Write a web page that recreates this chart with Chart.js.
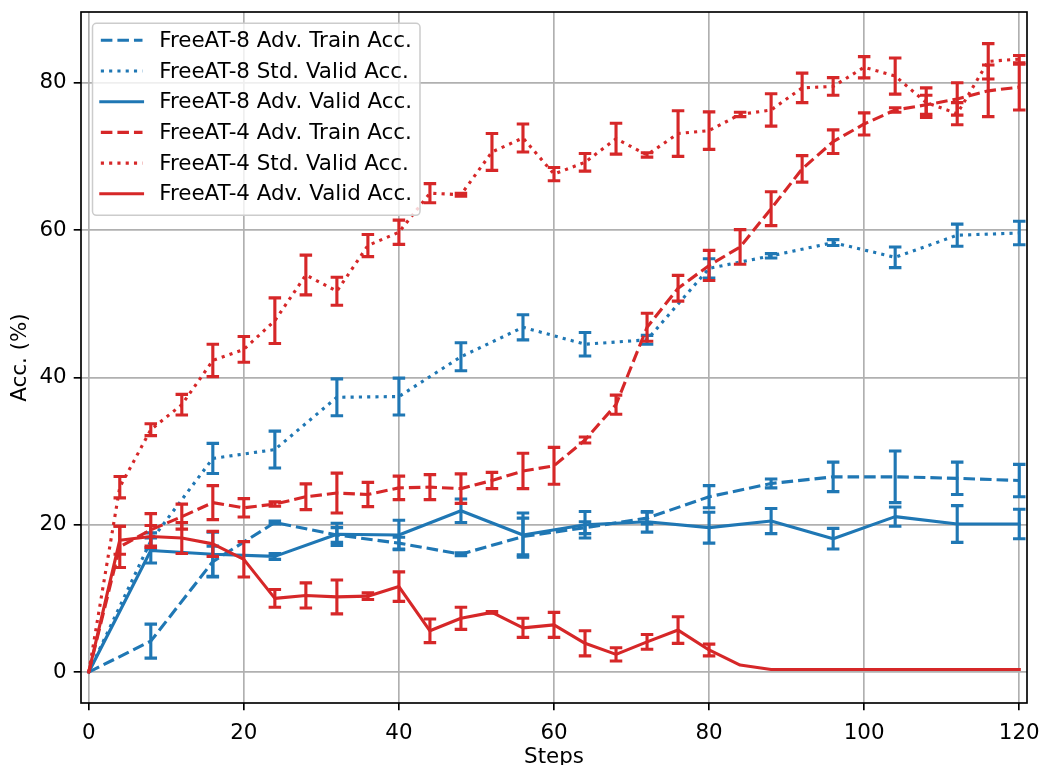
<!DOCTYPE html>
<html>
<head>
<meta charset="utf-8">
<script src="https://cdn.jsdelivr.net/npm/chart.js@4.4.1/dist/chart.umd.min.js"></script>
<style>
html,body{margin:0;padding:0;background:#fff;}
canvas{display:block;}
</style>
</head>
<body>
<canvas id="c" width="1040" height="765" style="width:1040px;height:765px"></canvas>
<script>
// ---------------- data ----------------
const stepsAT8 = [0,8,16,24,32,40,48,56,64,72,80,88,96,104,112,120];
const stepsAT4 = [0,4,8,12,16,20,24,28,32,36,40,44,48,52,56,60,64,68,72,76,80,84,88,92,96,100,104,108,112,116,120];

const at8AdvTrain    = [0,4.2,15.0,20.3,18.6,17.5,16.0,18.4,19.6,20.9,23.8,25.6,26.5,26.5,26.3,26.0];
const at8AdvTrainErr = [0,2.3,2.1,0.2,1.0,0.8,0.2,2.5,0.8,0.8,1.5,0.6,2.0,3.5,2.2,2.2];
const at8StdValid    = [0,17.8,29.0,30.2,37.3,37.4,42.8,46.8,44.5,45.1,54.8,56.5,58.3,56.3,59.3,59.6];
const at8StdValidErr = [0,1.1,2.05,2.5,2.5,2.5,1.9,1.7,1.6,0.6,1.3,0.3,0.4,1.4,1.5,1.6];
const at8AdvValid    = [0,16.5,16.0,15.7,18.7,18.6,21.9,18.6,20.0,20.4,19.6,20.5,18.1,21.1,20.1,20.1];
const at8AdvValidErr = [0,1.7,3.0,0.4,1.5,2.0,1.6,3.0,1.8,1.4,2.1,1.7,1.4,1.3,2.5,2.0];

const at4AdvTrain    = [0,17.0,19.3,21.1,23.0,22.3,22.8,23.8,24.3,24.1,25.0,25.1,24.9,26.0,27.3,28.0,31.5,36.3,46.8,52.1,55.2,57.7,62.9,68.3,72.0,74.4,76.3,77.0,77.8,78.9,79.4];
const at4AdvTrainErr = [0,2.8,2.2,1.7,2.3,1.25,0.3,1.75,2.7,1.65,1.6,1.7,2.0,1.1,2.4,2.5,0.4,1.3,1.9,1.75,2.05,2.35,2.3,1.8,1.6,1.5,0.3,1.3,2.2,3.5,3.1];
const at4StdValid    = [0,25.1,32.9,36.3,42.3,43.8,47.7,53.9,51.7,57.9,59.7,65.0,64.8,70.6,72.5,67.6,69.2,72.4,70.2,73.1,73.5,75.7,76.3,79.3,79.5,82.1,80.9,77.3,75.8,82.9,83.2];
const at4StdValidErr = [0,1.45,0.8,1.4,2.2,1.75,3.1,2.7,1.9,1.5,1.65,1.3,0.2,2.5,1.9,0.9,1.2,2.1,0.3,3.1,2.55,0.3,2.2,2.0,1.2,1.45,2.45,2.0,1.5,2.4,0.5];
const at4AdvValid    = [0,17.9,18.4,18.2,17.4,15.3,10.0,10.4,10.2,10.3,11.6,5.6,7.3,8.1,6.0,6.4,3.9,2.4,4.1,5.7,3.0,0.95,0.35,0.35,0.35,0.35,0.35,0.35,0.35,0.35,0.35];
const at4AdvValidErr = [0,1.9,1.5,2.1,1.7,2.4,1.2,1.7,2.3,0.45,2.0,1.6,1.5,0.1,1.3,1.7,1.7,0.9,1.0,1.8,0.8,0,0,0,0,0,0,0,0,0,0];

const seriesLabels = [
  'FreeAT-8 Adv. Train Acc.',
  'FreeAT-8 Std. Valid Acc.',
  'FreeAT-8 Adv. Valid Acc.',
  'FreeAT-4 Adv. Train Acc.',
  'FreeAT-4 Std. Valid Acc.',
  'FreeAT-4 Adv. Valid Acc.'
];
const xTickValues = [0,20,40,60,80,100,120];
const yTickValues = [0,20,40,60,80];
const xTitle = 'Steps';
const yTitle = 'Acc. (%)';

// ---------------- styles ----------------
const PT = 150/72;
const BLUE = '#1f77b4', RED = '#d62728';
const LW = 1.5*PT;
const DASHED = [3.7*LW, 1.6*LW];
const DOTTED = [1*LW, 1.65*LW];
const FS = 21.4;
const FAMILY = "'DejaVu Sans', sans-serif";
const FONT = {family: FAMILY, size: FS};

function pts(xs, ys){ return xs.map((x,i)=>({x:x, y:ys[i]})); }

const seriesDefs = [
  [stepsAT8, at8AdvTrain, at8AdvTrainErr, BLUE, DASHED],
  [stepsAT8, at8StdValid, at8StdValidErr, BLUE, DOTTED],
  [stepsAT8, at8AdvValid, at8AdvValidErr, BLUE, []],
  [stepsAT4, at4AdvTrain, at4AdvTrainErr, RED, DASHED],
  [stepsAT4, at4StdValid, at4StdValidErr, RED, DOTTED],
  [stepsAT4, at4AdvValid, at4AdvValidErr, RED, []]
];

const datasets = seriesDefs.map((d,i)=>({
  label: seriesLabels[i],
  data: pts(d[0], d[1]),
  errors: d[2],
  borderColor: d[3],
  backgroundColor: d[3],
  borderWidth: LW,
  borderDash: d[4],
  borderCapStyle: d[4].length ? 'butt' : 'square',
  borderJoinStyle: 'round',
  pointRadius: 0,
  pointHoverRadius: 0,
  tension: 0,
  fill: false,
  order: 10 - i
}));

// ---------------- plugins ----------------
const errorBars = {
  id: 'errorBars',
  afterDatasetDraw(chart, args) {
    const ds = chart.data.datasets[args.index];
    if (!ds.errors) return;
    const {ctx, chartArea: a, scales} = chart;
    const xs = scales.x, ys = scales.y;
    const cap = 3*PT;
    ctx.save();
    ctx.beginPath();
    ctx.rect(a.left, a.top, a.right - a.left, a.bottom - a.top);
    ctx.clip();
    ctx.strokeStyle = ds.borderColor;
    ctx.lineWidth = LW;
    ctx.lineCap = 'butt';
    ctx.setLineDash([]);
    ds.data.forEach((p, i) => {
      const e = ds.errors[i];
      if (!e) return;
      const px = xs.getPixelForValue(p.x);
      const y1 = ys.getPixelForValue(p.y - e);
      const y2 = ys.getPixelForValue(p.y + e);
      ctx.beginPath();
      ctx.moveTo(px, y1); ctx.lineTo(px, y2);
      ctx.moveTo(px - cap, y1); ctx.lineTo(px + cap, y1);
      ctx.moveTo(px - cap, y2); ctx.lineTo(px + cap, y2);
      ctx.stroke();
    });
    ctx.restore();
  }
};

const spines = {
  id: 'spines',
  afterDatasetsDraw(chart) {
    const {ctx, chartArea: a} = chart;
    ctx.save();
    ctx.strokeStyle = '#000';
    ctx.lineWidth = 0.8*PT;
    ctx.setLineDash([]);
    ctx.strokeRect(a.left, a.top, a.right - a.left, a.bottom - a.top);
    ctx.restore();
  }
};

const insideLegend = {
  id: 'insideLegend',
  afterDraw(chart) {
    const {ctx, chartArea: a} = chart;
    const em = 10*PT;
    const x0 = a.left + 11.5, y0 = a.top + 11.3;
    const w = 327.5, h = 192;
    const r = 4;
    ctx.save();
    ctx.beginPath();
    ctx.moveTo(x0 + r, y0);
    ctx.lineTo(x0 + w - r, y0);
    ctx.arcTo(x0 + w, y0, x0 + w, y0 + r, r);
    ctx.lineTo(x0 + w, y0 + h - r);
    ctx.arcTo(x0 + w, y0 + h, x0 + w - r, y0 + h, r);
    ctx.lineTo(x0 + r, y0 + h);
    ctx.arcTo(x0, y0 + h, x0, y0 + h - r, r);
    ctx.lineTo(x0, y0 + r);
    ctx.arcTo(x0, y0, x0 + r, y0, r);
    ctx.closePath();
    ctx.fillStyle = 'rgba(255,255,255,0.8)';
    ctx.fill();
    ctx.strokeStyle = '#cccccc';
    ctx.lineWidth = 1.5;
    ctx.stroke();

    const hx = x0 + 0.4*em;
    const hl = 2*em;
    const tx = hx + hl + 0.8*em;
    ctx.font = FS + "px " + FAMILY;
    ctx.textBaseline = 'middle';
    ctx.textAlign = 'left';
    chart.data.datasets.forEach((ds, i) => {
      const cy = y0 + 17 + i*30.7;
      ctx.beginPath();
      ctx.strokeStyle = ds.borderColor;
      ctx.lineWidth = LW;
      ctx.lineCap = ds.borderDash.length ? 'butt' : 'square';
      ctx.setLineDash(ds.borderDash);
      ctx.moveTo(hx, cy);
      ctx.lineTo(hx + hl, cy);
      ctx.stroke();
      ctx.setLineDash([]);
      ctx.fillStyle = '#000';
      ctx.fillText(ds.label, tx, cy + 1);
    });
    ctx.restore();
  }
};

// ---------------- chart ----------------
const tickSetter = vals => scale => { scale.ticks = vals.map(v => ({value: v})); };

new Chart(document.getElementById('c').getContext('2d'), {
  type: 'line',
  data: { datasets: datasets },
  plugins: [errorBars, spines, insideLegend],
  options: {
    responsive: false,
    animation: false,
    devicePixelRatio: 1,
    events: [],
    layout: { padding: { left: 0, right: 13, top: 12, bottom: 0 } },
    plugins: { legend: { display: false }, tooltip: { enabled: false } },
    scales: {
      x: {
        type: 'linear',
        min: -1, max: 121,
        afterBuildTicks: tickSetter(xTickValues),
        afterFit: s => { s.height = 62; s.paddingLeft = 0; s.paddingRight = 0; s.paddingTop = 0; s.paddingBottom = 0; },
        ticks: { font: FONT, color: '#000', padding: 10, maxRotation: 0, autoSkip: false,
                 callback: v => String(v) },
        grid: { color: '#b0b0b0', lineWidth: 0.8*PT, tickColor: '#000', tickLength: 3.5*PT, drawTicks: true },
        border: { display: false },
        title: { display: true, text: xTitle, color: '#000',
                 font: {family: FAMILY, size: FS, lineHeight: 0.7}, padding: {top: 0, bottom: 0} }
      },
      y: {
        type: 'linear',
        min: -4.2, max: 89.6,
        afterBuildTicks: tickSetter(yTickValues),
        afterFit: s => { s.width = 81; s.paddingLeft = 0; s.paddingRight = 0; s.paddingTop = 0; s.paddingBottom = 0; },
        ticks: { font: FONT, color: '#000', padding: 7, autoSkip: false, callback: v => String(v) },
        grid: { color: '#b0b0b0', lineWidth: 0.8*PT, tickColor: '#000', tickLength: 3.5*PT, drawTicks: true },
        border: { display: false },
        title: { display: true, text: yTitle, color: '#000',
                 font: {family: FAMILY, size: FS, lineHeight: 1}, padding: {top: 10, bottom: 0} }
      }
    }
  }
});
</script>
</body>
</html>
